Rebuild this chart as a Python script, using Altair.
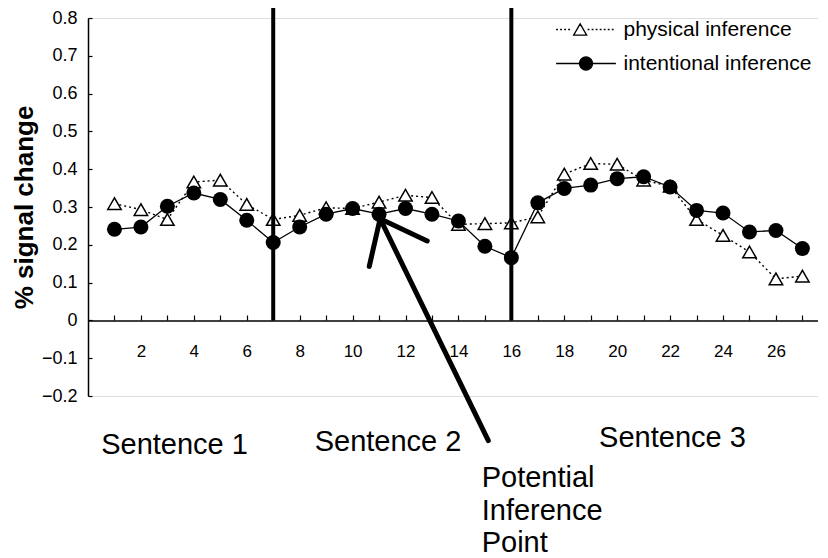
import altair as alt
import pandas as pd
import math

FONT = "Liberation Sans"

# ---------------- data ----------------
positions = list(range(1, 28))
physical = [0.309, 0.293, 0.267, 0.366, 0.371, 0.307, 0.267, 0.278, 0.298, 0.296,
            0.313, 0.331, 0.325, 0.254, 0.256, 0.258, 0.274, 0.387, 0.415, 0.413,
            0.371, 0.355, 0.267, 0.225, 0.181, 0.110, 0.117]
intentional = [0.241, 0.247, 0.302, 0.337, 0.320, 0.265, 0.206, 0.247, 0.281, 0.296,
               0.281, 0.296, 0.281, 0.263, 0.196, 0.166, 0.311, 0.349, 0.358, 0.375,
               0.380, 0.353, 0.291, 0.284, 0.234, 0.238, 0.190]
series_names = ["physical inference", "intentional inference"]

sentence_boundaries = [7, 16]
x_label_values = list(range(2, 27, 2))
x_tick_values = list(range(1, 28))
y_values = [-0.2, -0.1, 0, 0.1, 0.2, 0.3, 0.4, 0.5, 0.6, 0.7, 0.8]

# annotations (data space)
sentence_labels = ["Sentence 1", "Sentence 2", "Sentence 3"]
sentence_x = [3.27, 11.34, 22.09]
sentence_y = [-0.353, -0.346, -0.336]
note_lines = ["Potential", "Inference", "Point"]
note_x = [14.88, 14.88, 14.88]
note_y = [-0.440, -0.527, -0.614]
arrow_x = [15.13, 11.04, 11.04]
arrow_y = [-0.318, 0.269, 0.269]
arrow_x2 = [11.04, 10.63, 12.82]
arrow_y2 = [0.269, 0.143, 0.210]

# ---------------- tables ----------------
df_p = pd.DataFrame({"position": positions, "value": physical, "series": series_names[0]})
df_i = pd.DataFrame({"position": positions, "value": intentional, "series": series_names[1]})
df_all = pd.concat([df_p, df_i], ignore_index=True)
df_bound = pd.DataFrame({"boundary": sentence_boundaries, "base": [0] * len(sentence_boundaries)})
df_sent = pd.DataFrame({"label": sentence_labels, "x": sentence_x, "y": sentence_y})
df_note = pd.DataFrame({"label": note_lines, "x": note_x, "y": note_y})
df_arrow = pd.DataFrame({"x": arrow_x, "y": arrow_y, "x2": arrow_x2, "y2": arrow_y2})

W, H = 730, 378
xs = alt.Scale(domain=[0, 27.59], nice=False, zero=False)
ys = alt.Scale(domain=[-0.2, 0.8], nice=False, zero=False)

bottom_axis = alt.Axis(orient="bottom", offset=-75.5, values=x_label_values, ticks=False,
                       tickSize=0, domain=True, domainColor="black", domainWidth=1.5,
                       labelPadding=23, labelFontSize=17, labelFont=FONT, labelColor="black",
                       labelOverlap=False, labelFlush=False, grid=False, title=None)
top_axis = alt.Axis(orient="top", offset=-302, values=x_tick_values, ticks=True, tickSize=5,
                    tickColor="black", tickWidth=1.2, labels=False, domain=False, grid=False,
                    title=None)
left_axis = alt.Axis(orient="left", values=y_values, ticks=False, tickSize=0, labelPadding=11,
                     labelExpr="datum.value == 0 ? '0' : format(datum.value, '.1f')",
                     labelFontSize=18, labelFont=FONT, labelColor="black", domain=True,
                     domainColor="black", domainWidth=1.5, grid=False,
                     title="% signal change", titleFontSize=26, titleFont=FONT,
                     titleFontWeight="bold", titleColor="black", titlePadding=4)
right_axis = alt.Axis(orient="right", offset=-W, values=y_values, ticks=True, tickSize=4,
                      tickColor="black", tickWidth=1.2, labels=False, domain=False,
                      grid=False, title=None)

# legend symbols as custom paths (unit = sqrt(size)/2 px)
def dotted(a, b, seg=0.28, period=0.62):
    parts = []
    t = a
    while t + seg <= b + 1e-9:
        parts.append(f"M{t:.2f},0H{t + seg:.2f}")
        t += period
    return "".join(parts)

cx = -0.9
path_phys = (dotted(-4.6, cx - 1.15) + dotted(cx + 1.15, 4.6) +
             f"M{cx:.2f},-0.87L{cx + 1:.2f},0.87L{cx - 1:.2f},0.87Z")
circ = "".join(("M" if k == 0 else "L") +
               f"{math.cos(2 * math.pi * k / 28):.3f},{math.sin(2 * math.pi * k / 28):.3f}"
               for k in range(28)) + "Z"
path_int = "M-4.6,0H4.6" + circ

legend = alt.Legend(title=None, orient="none", legendX=487.5, legendY=1, symbolSize=169,
                    symbolStrokeColor="black", symbolStrokeWidth=1.3, symbolOpacity=1,
                    labelFontSize=21, labelFont=FONT, labelColor="black", labelOffset=27,
                    labelLimit=0, rowPadding=12, padding=0)

X = lambda **kw: alt.X("position:Q", scale=xs, **kw)
Y = lambda **kw: alt.Y("value:Q", scale=ys, **kw)

phys_line = alt.Chart(df_p).mark_line(color="black", strokeWidth=1.4, strokeDash=[2, 3]).encode(
    x=X(axis=bottom_axis), y=Y(axis=left_axis))
phys_pts = alt.Chart(df_p).mark_point(shape="triangle-up", size=180, filled=False, fill="white",
                                      stroke="black", strokeWidth=1.5, opacity=1).encode(
    x=X(axis=None), y=Y(axis=None))
int_line = alt.Chart(df_i).mark_line(color="black", strokeWidth=1.3).encode(
    x=X(axis=None), y=Y(axis=None))
int_pts = alt.Chart(df_i).mark_point(shape="circle", size=225, filled=True, color="black",
                                     opacity=1).encode(x=X(axis=None), y=Y(axis=None))

bounds = alt.Chart(df_bound).mark_rule(color="black", strokeWidth=4).encode(
    x=alt.X("boundary:Q", scale=xs, axis=top_axis),
    y=alt.Y("base:Q", scale=ys, axis=right_axis),
    y2=alt.value(-12))

arrow = alt.Chart(df_arrow).mark_rule(color="black", strokeWidth=5, strokeCap="round").encode(
    x=alt.X("x:Q", scale=xs, axis=None), y=alt.Y("y:Q", scale=ys, axis=None),
    x2="x2:Q", y2="y2:Q")

sent = alt.Chart(df_sent).mark_text(font=FONT, fontSize=29, color="black", align="center",
                                    baseline="alphabetic").encode(
    x=alt.X("x:Q", scale=xs, axis=None), y=alt.Y("y:Q", scale=ys, axis=None), text="label:N")
note = alt.Chart(df_note).mark_text(font=FONT, fontSize=29, color="black", align="left",
                                    baseline="alphabetic").encode(
    x=alt.X("x:Q", scale=xs, axis=None), y=alt.Y("y:Q", scale=ys, axis=None), text="label:N")

legend_layer = alt.Chart(df_all).mark_point(opacity=0).encode(
    x=X(axis=None), y=Y(axis=None),
    shape=alt.Shape("series:N", scale=alt.Scale(domain=series_names, range=[path_phys, path_int]),
                    legend=legend),
    fill=alt.Fill("series:N", scale=alt.Scale(domain=series_names, range=["white", "black"]),
                  legend=legend),
    stroke=alt.Stroke("series:N", scale=alt.Scale(domain=series_names, range=["black", "black"]),
                      legend=legend))

chart = alt.layer(phys_line, phys_pts, int_line, int_pts, bounds, arrow, sent, note,
                  legend_layer).resolve_axis(x="independent", y="independent").properties(
    width=W, height=H,
    autosize=alt.AutoSizeParams(type="none"),
    padding={"left": 80, "top": 10, "right": 0, "bottom": 162},
).configure_view(stroke=None).configure(background="white")

chart.save("out.html", embed_options={"renderer": "svg", "actions": False})
